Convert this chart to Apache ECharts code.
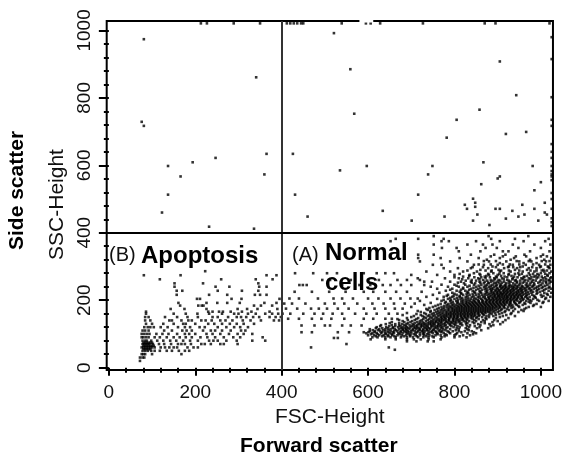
<!DOCTYPE html>
<html><head><meta charset="utf-8">
<style>html,body{margin:0;padding:0;background:#fff}#c{width:565px;height:454px}</style>
<script src="https://cdn.jsdelivr.net/npm/echarts@6/dist/echarts.min.js"></script>
</head><body><div id="c"></div>
<script>
const xMajorTicks=[0,200,400,600,800,1000];
const xMinorTicks=[40,80,120,160,240,280,320,360,440,480,520,560,640,680,720,760,840,880,920,960];
const yMajorTicks=[0,200,400,600,800,1000];
const yMinorTicks=[40,80,120,160,240,280,320,360,440,480,520,560,640,680,720,760,840,880,920,960];
const gateX=400, gateY=400;
const frameGaps=[[580,612]];
const upperLeft=[[81,974],[341,861],[76,729],[81,717],[137,598],[166,567],[194,609],[247,622],[365,634],[360,573],[137,513],[123,460],[232,418],[336,412],[213,1021],[227,1021],[289,1021],[350,1021]];
const upperRight=[[521,992],[559,885],[568,753],[905,908],[943,808],[858,765],[805,735],[782,682],[919,693],[966,699],[426,634],[535,585],[597,598],[749,598],[739,573],[867,609],[981,598],[905,567],[900,561],[862,544],[1000,550],[985,526],[431,513],[716,513],[843,501],[848,489],[824,483],[848,477],[829,471],[895,471],[905,471],[957,483],[1009,489],[985,471],[934,465],[634,465],[1009,460],[1014,454],[853,454],[962,454],[460,448],[777,448],[948,448],[919,442],[843,436],[701,436],[994,436],[881,423],
[1025,980],[1025,915],[1025,802],[1025,735],[1025,717],[1025,663],[1025,640],[1025,622],[1025,598],[1025,583],[1025,573],[1025,567],[1025,556],[1025,518],[1025,500],[1025,471],[1025,443],[1025,431],[1025,420],
[412,1021],[420,1021],[428,1021],[436,1021],[445,1021],[450,1021],[539,1021],[595,1021],[606,1021],[628,1021],[727,1021],[870,1021],[895,1021],[1020,1021]];
const apoptosisRows=[
[286,[223]],[274,[81,166,365,388]],[262,[118,260,379,340]],[250,[152,218,346]],[240,[152,247,279,348,365]],[228,[157,170,252,308,346]],[216,[157,232,274,338,350,365]],
[204,[204,211,284,307,395]],[192,[161,226,251,274,303,360,388]],[184,[165,207,215,219,336,352,378]],[174,[143,175,226,298,320,344,390]],[166,[86,230,240,255,264,282,308,330,372]],
[160,[86,150,178,205,232,262,290,300,322,340,362,378,392]],
[150,[84,92,130,158,182,206,240,252,276,296,306,318,334,348,372,386,398]],
[140,[84,96,140,146,168,184,192,214,224,238,258,270,286,310,328,352,382,394]],
[130,[86,100,126,150,172,178,200,230,244,262,280,296,312,336]],
[120,[82,90,96,104,120,136,160,176,188,210,222,252,272,290,304,322]],
[110,[78,84,92,128,146,170,180,192,218,236,246,262,282,306,316]],
[100,[76,82,88,94,110,124,138,158,176,186,200,226,240,258,278,298,312,332]],
[90,[76,80,86,92,106,118,134,150,164,178,192,212,228,246,266,288,304,356]],
[80,[78,84,88,98,112,126,142,156,172,188,206,232,242,252,272,296,332,362]],
[74,[80,84,88,92,96,100]],
[70,[78,82,86,90,94,102,116,128,144,160,168,176,190,214,222,236,258,266,298]],
[65,[80,84,88,92,96,100,104]],
[60,[76,80,84,88,92,96,100,106,120,130,140,150,158,182,196,206]],
[55,[80,84,88,92,96]],
[50,[78,84,90,98,106,118,134,146,162,176,186]],
[40,[76,80,84,100,168]],[30,[72,78,82]],[20,[72]]];
const sparseRows=[
[280,[431,473,505,528,590,620,640,660]],[260,[494,512,560,600,625,668,690,720]],
[245,[441,449,458,540,580,605,634,652,676,700,730]],[225,[430,470,510,548,590,612,640,665,690,724]],
[205,[418,440,484,520,540,565,600,624,652,675,698,715]],[190,[406,424,455,500,522,545,575,610,636,660,685,708]],
[175,[410,436,468,486,505,530,555,590,615,640,662,680]],[160,[402,420,450,476,496,518,540,570,596,620,648,668]],
[145,[415,440,470,492,515,545,590,612,640,655]],[125,[446,476,500,512,540,560,585]],[105,[446,470,530,556,590]],
[88,[521,530]],[70,[550]],[60,[468,648]],[53,[662]]];
const normalRows=[
[390,[752,879,971]],[382,[664,716,775,885,940,1018]],[375,[652,770,787,850,905,960,1010]],[365,[752,830,866,888,935,985,1022]],
[355,[771,805,872,898,948,1000]],[345,[810,860,912,925,975,1020]],[335,[716,752,838,892,918,962,1005]],[325,[716,768,812,856,905,938,990,1024]],
[315,[720,790,830,880,920,950,978,1012]],[305,[750,770,845,868,900,935,965,996,1022]],[295,[775,808,838,878,915,945,972,990,1020]],
[285,[735,790,820,852,885,905,930,958,985,1008,1024]],[275,[700,760,800,835,860,880,900,925,950,975,995,1015]],
[265,[715,778,810,832,855,872,892,910,935,955,972,990,1005,1022]],[255,[730,748,790,815,838,858,870,885,900,915,930,945,962,980,998,1012,1024]],
[246,[770,800,825,845,862,875,888,898,908,918,928,940,950,965,975,985,1000,1015]],
[240,[745,785,810,830,850,868,880,892,905,912,920,930,938,948,958,968,980,992,1005,1020]],
[234,[760,795,820,838,855,870,882,890,900,908,916,924,934,942,952,960,972,984,996,1012,1024]],
[228,[780,805,825,842,858,872,884,894,902,912,920,928,936,946,954,964,976,990,1004,1018]],
[222,[765,795,815,832,848,862,874,884,892,900,908,914,922,930,938,946,956,966,978,992,1008,1024]],
[216,[750,785,805,820,835,850,864,876,886,894,902,910,918,926,934,942,950,958,968,980,1000,1016]],
[210,[735,775,795,812,826,840,854,866,878,886,894,902,910,918,924,932,940,948,956,964,974,986,1002,1022]],
[204,[760,785,800,814,826,838,850,862,872,880,888,896,904,912,920,928,936,944,952,960,970,982,1010]],
[198,[720,770,790,804,816,826,836,846,856,866,874,882,890,898,906,914,922,930,938,946,954,966,978,996,1018]],
[192,[745,778,792,806,816,826,834,842,850,858,866,874,882,890,898,906,914,922,930,940,950,962,976,1004]],
[186,[730,762,782,794,804,814,822,830,838,846,854,862,870,878,886,894,902,910,918,926,934,944,958,984]],
[180,[700,750,770,782,792,802,810,818,826,834,842,850,858,866,874,882,890,898,906,914,924,936,950,972,1000]],
[174,[735,760,772,784,794,802,810,818,826,834,842,850,858,866,874,882,890,900,910,922,940,962]],
[168,[715,745,762,774,784,794,802,810,818,826,834,842,850,858,866,874,882,892,904,918,936,960]],
[162,[690,730,752,764,774,784,792,800,808,816,824,832,840,848,856,864,872,882,894,910,932]],
[156,[680,722,742,754,766,776,784,792,800,808,816,824,832,840,848,858,868,880,896,920]],
[150,[700,730,744,756,768,776,784,792,800,808,816,824,832,842,852,864,880,905]],
[144,[668,712,728,742,754,764,772,780,788,796,804,812,820,830,842,856,874]],
[138,[680,702,720,734,746,756,764,772,780,788,796,804,812,822,834,850,870,900]],
[132,[650,672,692,708,720,730,738,746,754,762,770,778,786,794,804,816,830,846,870]],
[126,[630,655,672,684,696,706,714,722,730,738,746,754,762,770,780,790,802,818,836,860,890]],
[120,[620,642,658,670,680,690,698,706,714,722,730,738,746,754,762,772,784,798,812,834,858]],
[114,[604,626,640,652,662,672,680,688,696,704,712,720,728,736,744,752,762,774,790,810,830]],
[108,[604,616,628,640,652,660,668,676,684,692,700,708,716,724,732,740,748,756,764,772,784,796,810,824,840]],
[102,[596,610,620,630,640,650,660,670,680,690,700,710,720,730,740,750,760,775,790,806,830,850]],
[96,[600,614,626,636,646,656,668,678,688,698,710,720,730,742,756,768,782,800,820,836]],
[90,[610,622,640,652,664,676,690,704,716,728,740,752,770,800,828]],
[84,[606,640,664,690,706,722,740,768]],[78,[690,712,738,752]]];
const normalExtraRows=[
[93,[618,633,647,661,683,697,713,735,749,777,812]],
[99,[607,622,641,655,673,694,706,727,737,761,779,803,843]],
[105,[601,615,633,646,657,675,687,695,713,727,745,758,769,787,816,845]],
[111,[611,623,635,647,665,681,689,703,719,727,737,751,767,779,803,833,862]],
[117,[618,633,646,657,677,685,693,709,717,733,741,757,769,781,805,826,852,878]],
[123,[628,649,663,675,687,701,711,725,735,749,759,767,777,793,807,829,847,884]],
[129,[641,663,679,689,703,717,725,733,743,751,765,775,789,799,813,827,855,881,906]],
[135,[655,684,698,714,726,742,750,758,768,782,792,800,810,826,842,862,888,912]],
[141,[672,692,708,724,738,750,760,768,776,786,798,808,818,828,846,866,892,918]],
[147,[690,716,734,748,760,770,778,788,798,806,818,826,838,850,872,896,925]],
[153,[706,726,738,750,762,772,780,790,798,806,814,822,830,838,846,856,874,890,912,940]],
[159,[712,734,748,760,770,780,788,796,804,812,820,828,836,844,854,866,886,904,930]],
[165,[722,744,758,768,780,790,798,806,814,822,830,838,846,854,862,870,878,888,900,916,948]],
[171,[738,754,768,778,788,798,806,814,822,830,838,846,854,862,870,878,886,896,908,926,955]],
[177,[742,764,776,788,796,806,814,822,830,838,846,854,862,870,878,886,894,904,916,932,966]],
[183,[756,776,788,798,808,816,824,832,840,848,856,864,872,880,888,896,904,914,930,948,982]],
[189,[768,786,798,810,820,828,836,844,852,860,868,876,884,892,900,908,916,928,942,964,990]],
[195,[780,796,808,820,830,840,848,856,864,872,880,888,896,904,912,920,928,938,952,972,1006]],
[201,[775,792,808,820,832,844,854,864,876,884,892,900,908,916,924,932,942,958,974,992]],
[207,[790,806,818,832,846,858,870,880,890,898,906,914,922,930,938,946,956,968,988,1012]],
[213,[782,798,812,830,844,858,870,882,892,900,906,914,922,930,938,946,954,966,984,1006]],
[219,[800,816,828,842,856,870,880,890,898,906,912,920,928,936,944,952,962,972,990,1014]],
[225,[812,830,846,860,876,888,898,906,916,924,932,942,950,958,970,982,998]],
[231,[790,815,834,850,864,876,886,896,904,914,922,930,938,948,956,966,978,992,1008]],
[237,[820,844,860,874,886,898,910,918,926,936,944,954,964,974,988,1002,1018]],
[243,[805,835,856,872,884,896,906,916,926,934,944,956,970,982,996,1010]],
[250,[822,848,868,880,892,904,920,936,952,968,984,1004,1020]],
[260,[840,866,884,902,922,942,964,982,1000,1018]],
[270,[820,870,896,916,938,962,984,1002]],
[280,[845,890,914,948,972,1000,1020]],
[290,[860,902,940,968,1006]],[300,[888,926,958,1000,1016]],[310,[905,960,990]],[320,[875,930,975,1008]],[330,[942,1000]]];
const normalUpperRows=[
[330,[884,912,966,1014]],[316,[868,896,944,972,1002,1020]],[306,[856,884,912,928,950,982,1010]],
[298,[842,866,896,924,936,952,980,998,1018]],[288,[830,872,886,908,926,950,976,990,1002,1014]],
[278,[812,858,878,904,926,940,956,982,992,1010]],[268,[800,846,862,882,898,922,946,960,978,994,1010,1024]],
[258,[826,850,876,890,906,926,940,952,970,988,1006,1020]],[252,[808,840,860,878,896,910,926,944,958,976,994,1012]],
[272,[834,874,908,932,968,988,1016]],[262,[818,858,894,914,934,958,976,1012]]];
const expand=rows=>rows.flatMap(([y,xs])=>xs.map(x=>[x,y]));
const pts=[...upperLeft,...upperRight,...expand(apoptosisRows),...expand(sparseRows),...expand(normalRows),...expand(normalExtraRows),...expand(normalUpperRows)];
const font='"Liberation Sans",Arial,sans-serif';
const xBase={type:'value',min:-5,max:1028,position:'bottom',splitLine:{show:false},axisLine:{show:false}};
const yBase={type:'value',min:-7,max:1028,position:'left',splitLine:{show:false},axisLine:{show:false}};
const lbl={color:'#111',fontFamily:font,fontSize:19};
const plain=v=>String(v);
const chart=echarts.init(document.getElementById('c'),null,{renderer:'canvas'});
chart.setOption({animation:false,backgroundColor:'#fff',
grid:{left:106.7,right:10,top:21,bottom:84,show:true,borderColor:'#000',borderWidth:2,backgroundColor:'#fff'},
xAxis:[{...xBase,axisTick:{show:true,length:8,lineStyle:{color:'#000',width:2},customValues:xMajorTicks},
  axisLabel:{...lbl,margin:13,customValues:xMajorTicks,hideOverlap:false,formatter:plain},
  name:'FSC-Height',nameLocation:'middle',nameGap:32,nameTextStyle:{...lbl,fontSize:21}},
 {...xBase,axisTick:{show:true,length:5,lineStyle:{color:'#000',width:2},customValues:xMinorTicks},axisLabel:{show:false}}],
yAxis:[{...yBase,axisTick:{show:true,length:10,lineStyle:{color:'#000',width:2},customValues:yMajorTicks},
  axisLabel:{...lbl,margin:12,rotate:90,customValues:yMajorTicks,hideOverlap:false,formatter:plain},
  name:'SSC-Height',nameLocation:'middle',nameGap:30,nameRotate:90,nameTextStyle:{...lbl,fontSize:21,padding:[0,18,0,0]}},
 {...yBase,axisTick:{show:true,length:5,lineStyle:{color:'#000',width:2},customValues:yMinorTicks},axisLabel:{show:false}}],
series:[
 {type:'scatter',name:'Events',data:pts,symbol:'rect',symbolSize:2.6,itemStyle:{color:'#000'},silent:true,z:2,large:false,
  markLine:{silent:true,symbol:'none',animation:false,label:{show:false},
   data:[{xAxis:gateX,lineStyle:{color:'#333',width:2,type:'solid'}},{yAxis:gateY,lineStyle:{color:'#000',width:2,type:'solid'}}]}},
 ...frameGaps.map(g=>({type:'line',name:'gap',data:[[g[0],1028],[g[1],1028]],symbol:'none',clip:false,lineStyle:{color:'#fff',width:3},z:5,silent:true}))
],
graphic:[
 {type:'text',left:109,top:245,style:{text:'(B)',font:'20px '+font,fill:'#111'}},
 {type:'text',left:141,top:244,style:{text:'Apoptosis',font:'bold 24px '+font,fill:'#000'}},
 {type:'text',left:292,top:245,style:{text:'(A)',font:'20px '+font,fill:'#111'}},
 {type:'text',left:325,top:241,style:{text:'Normal',font:'bold 24px '+font,fill:'#000'}},
 {type:'text',left:325,top:271,style:{text:'cells',font:'bold 24px '+font,fill:'#000'}},
 {type:'text',left:240,top:436,style:{text:'Forward scatter',font:'bold 21px '+font,fill:'#000'}},
 {type:'text',x:7,y:250,rotation:Math.PI/2,style:{text:'Side scatter',font:'bold 21px '+font,fill:'#000'}}
]});
</script></body></html>
